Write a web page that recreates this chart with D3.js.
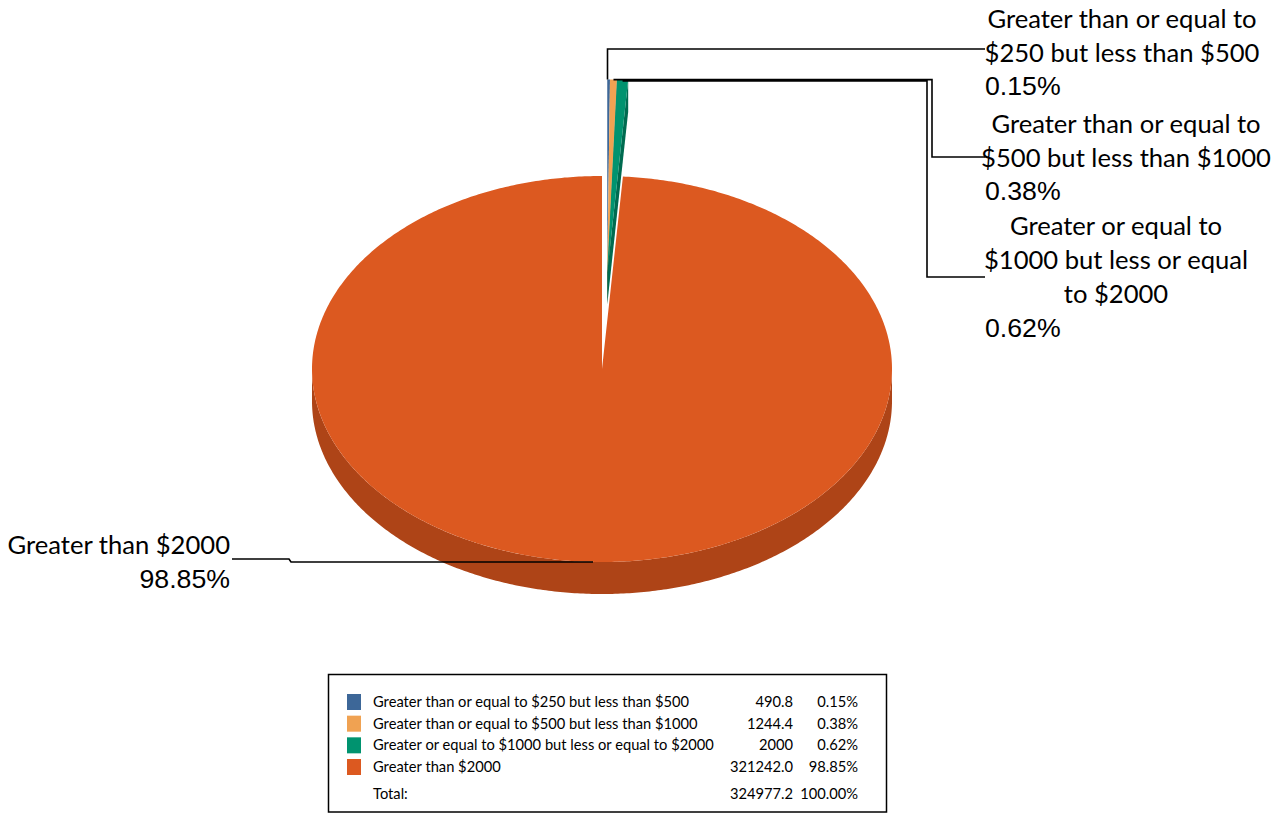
<!DOCTYPE html>
<html>
<head>
<meta charset="utf-8">
<script src="https://cdn.jsdelivr.net/npm/d3@7"></script>
<style>
  html, body { margin: 0; padding: 0; background: #ffffff; }
  svg { display: block; }
</style>
</head>
<body>
<svg id="chart" width="1280" height="813"></svg>
<script>
// ---------------- data ----------------
const categories = [
  "Greater than or equal to $250 but less than $500",
  "Greater than or equal to $500 but less than $1000",
  "Greater or equal to $1000 but less or equal to $2000",
  "Greater than $2000"
];
const values = [490.8, 1244.4, 2000, 321242.0];
const valueLabels = ["490.8", "1244.4", "2000", "321242.0"];
const percentLabels = ["0.15%", "0.38%", "0.62%", "98.85%"];
const totalLabel = "Total:";
const totalValue = "324977.2";
const totalPercent = "100.00%";
const calloutLines = [
  ["Greater than or equal to", "$250 but less than $500"],
  ["Greater than or equal to", "$500 but less than $1000"],
  ["Greater or equal to", "$1000 but less or equal", "to $2000"],
  ["Greater than $2000"]
];
const exploded = [true, true, true, false];

// ---------------- styles ----------------
const topColors  = ["#3D6798", "#F0A252", "#00936F", "#DC5920"];
const sideColors = ["#2B4A6E", "#B8773A", "#006B50", "#AE4417"];

const svg = d3.select("#chart");
const cx = 602, cy = 369, rx = 290, ry = 193, depth = 32, explodeK = 0.5;

const pie = d3.pie().sort(null).value(d => d);
const arcs = pie(values);

function pt(theta, ox, oy, z) {
  return [cx + ox + rx * Math.sin(theta), cy + oy - ry * Math.cos(theta) + z];
}
// exploded slices move together, along the mid-angle of the exploded group
const expArcs = arcs.filter((a, i) => exploded[i]);
const groupMid = (d3.min(expArcs, a => a.startAngle) + d3.max(expArcs, a => a.endAngle)) / 2;
function offsetOf(a, i) {
  if (!exploded[i]) return [0, 0];
  return [explodeK * rx * Math.sin(groupMid), -explodeK * ry * Math.cos(groupMid)];
}
function arcPoints(a0, a1, ox, oy, z) {
  const n = Math.max(2, Math.ceil((a1 - a0) / 0.01));
  const pts = [];
  for (let k = 0; k <= n; k++) pts.push(pt(a0 + (a1 - a0) * k / n, ox, oy, z));
  return pts;
}
function topPath(a, ox, oy) {
  const p = d3.path();
  p.moveTo(cx + ox, cy + oy);
  arcPoints(a.startAngle, a.endAngle, ox, oy, 0).forEach(q => p.lineTo(q[0], q[1]));
  p.closePath();
  return p.toString();
}
function sidePath(a, ox, oy) {
  const s = Math.max(a.startAngle, Math.PI / 2), e = Math.min(a.endAngle, 3 * Math.PI / 2);
  if (e <= s) return null;
  const p = d3.path();
  const top = arcPoints(s, e, ox, oy, 0), bot = arcPoints(s, e, ox, oy, depth).reverse();
  p.moveTo(top[0][0], top[0][1]);
  top.forEach(q => p.lineTo(q[0], q[1]));
  bot.forEach(q => p.lineTo(q[0], q[1]));
  p.closePath();
  return p.toString();
}
function wallPath(theta, ox, oy) {
  const o = pt(theta, ox, oy, 0), ob = pt(theta, ox, oy, depth);
  const p = d3.path();
  p.moveTo(cx + ox, cy + oy);
  p.lineTo(o[0], o[1]);
  p.lineTo(ob[0], ob[1]);
  p.lineTo(cx + ox, cy + oy + depth);
  p.closePath();
  return p.toString();
}

const gPie = svg.append("g");
const order = arcs.map((a, i) => i).sort((i, j) => (exploded[i] ? 1 : 0) - (exploded[j] ? 1 : 0));
order.forEach(i => {
  const a = arcs[i];
  const [ox, oy] = offsetOf(a, i);
  [[a.startAngle, -1], [a.endAngle, 1]].forEach(([th, sgn]) => {
    const phi = th + sgn * Math.PI / 2;
    if (-Math.cos(phi) > 0.01) {
      gPie.append("path").attr("d", wallPath(th, ox, oy)).attr("fill", sideColors[i]);
    }
  });
  const sp = sidePath(a, ox, oy);
  if (sp) gPie.append("path").attr("d", sp).attr("fill", sideColors[i]);
  gPie.append("path").attr("d", topPath(a, ox, oy)).attr("fill", topColors[i]);
});

// ---------------- callouts ----------------
const gLab = svg.append("g");
const nameFont = "Lato, 'Open Sans', sans-serif";
const pctFont = "'Liberation Sans', Arial, sans-serif";

function rimAt(i, frac) {
  const a = arcs[i];
  const [ox, oy] = offsetOf(a, i);
  return pt(a.startAngle + (a.endAngle - a.startAngle) * frac, ox, oy, 0);
}
const leaders = [
  (s) => [[s[0], s[1]], [s[0], 49], [985, 49]],
  (s) => [[s[0], s[1]], [932, s[1]], [932, 157], [985, 157]],
  (s) => [[s[0], s[1] + 1], [927, s[1] + 1], [927, 277], [985, 277]],
  () => [[232, 559], [289, 559], [291, 562], [593, 562]]
];
const leaderFrac = [0.1, 0.5, 0.5, 0.5];
const line = d3.line();
leaders.forEach((f, i) => {
  gLab.append("path").attr("d", line(f(rimAt(i, leaderFrac[i]))))
    .attr("fill", "none").attr("stroke", "#000").attr("stroke-width", 1.6);
});

const blocks = [
  { cxText: 1122, base: [28, 62], pctX: 985, pctY: 95, anchor: "middle" },
  { cxText: 1126, base: [133, 167], pctX: 985, pctY: 200, anchor: "middle" },
  { cxText: 1116, base: [235, 269, 303], pctX: 985, pctY: 337, anchor: "middle" },
  { cxText: 230, base: [554], pctX: 230, pctY: 588, anchor: "end" }
];
blocks.forEach((b, i) => {
  calloutLines[i].forEach((t, k) => {
    gLab.append("text").attr("x", b.cxText).attr("y", b.base[k])
      .attr("text-anchor", b.anchor).attr("font-family", nameFont)
      .attr("font-size", 25.6).attr("fill", "#000").text(t);
  });
  gLab.append("text").attr("x", b.pctX).attr("y", b.pctY)
    .attr("text-anchor", i === 3 ? "end" : "start").attr("font-family", pctFont)
    .attr("font-size", 26.7).attr("fill", "#000").text(percentLabels[i]);
});

// ---------------- legend table ----------------
const gLeg = svg.append("g");
gLeg.append("rect").attr("x", 328.5).attr("y", 674.5).attr("width", 558).attr("height", 137.5)
  .attr("fill", "#fff").attr("stroke", "#000").attr("stroke-width", 1.5);
const rowY = d3.scalePoint().domain(d3.range(categories.length)).range([702, 767]);
const legFont = "Lato, 'Open Sans', sans-serif";
const legSize = 14.7;
categories.forEach((c, i) => {
  const y = rowY(i);
  gLeg.append("rect").attr("x", 347).attr("y", y - 8).attr("width", 14).attr("height", 16)
    .attr("fill", topColors[i]);
  gLeg.append("text").attr("x", 373).attr("y", y + 5).attr("font-family", legFont)
    .attr("font-size", legSize).text(c);
  gLeg.append("text").attr("x", 793).attr("y", y + 5).attr("text-anchor", "end")
    .attr("font-family", legFont).attr("font-size", legSize).text(valueLabels[i]);
  gLeg.append("text").attr("x", 858).attr("y", y + 5).attr("text-anchor", "end")
    .attr("font-family", legFont).attr("font-size", legSize).text(percentLabels[i]);
});
gLeg.append("text").attr("x", 373).attr("y", 799).attr("font-family", legFont).attr("font-size", legSize).text(totalLabel);
gLeg.append("text").attr("x", 793).attr("y", 799).attr("text-anchor", "end").attr("font-family", legFont).attr("font-size", legSize).text(totalValue);
gLeg.append("text").attr("x", 858).attr("y", 799).attr("text-anchor", "end").attr("font-family", legFont).attr("font-size", legSize).text(totalPercent);
</script>
</body>
</html>
